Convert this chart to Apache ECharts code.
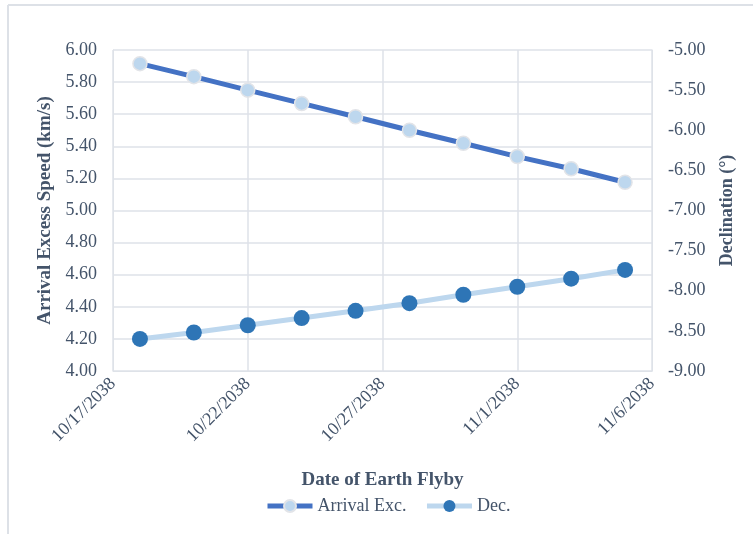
<!DOCTYPE html>
<html><head><meta charset="utf-8">
<script src="https://cdn.jsdelivr.net/npm/echarts@6/dist/echarts.min.js"></script>
<style>html,body{margin:0;padding:0;background:#fff}#c{width:753px;height:534px}</style>
</head><body><div id="c"></div>
<script>
const dates = ['10/18/2038','10/20/2038','10/22/2038','10/24/2038','10/26/2038','10/28/2038','10/30/2038','11/1/2038','11/3/2038','11/5/2038'];
const arrivalExc = [5.915, 5.834, 5.75, 5.667, 5.584, 5.50, 5.419, 5.336, 5.26, 5.176];
const declination = [-8.60, -8.52, -8.43, -8.34, -8.25, -8.155, -8.05, -7.95, -7.85, -7.74];
const xTickLabels = ['10/17/2038','10/22/2038','10/27/2038','11/1/2038','11/6/2038'];
const startDate = '10/17/2038';

function dayOffset(s){
  const p=s.split('/'); const b=startDate.split('/');
  const d=Date.UTC(+p[2],+p[0]-1,+p[1]); const d0=Date.UTC(+b[2],+b[0]-1,+b[1]);
  return Math.round((d-d0)/86400000);
}
const txt='#44546A', font='"Liberation Serif","Times New Roman",serif', gridC='#DEE2E8';
const chart = echarts.init(document.getElementById('c'));
chart.setOption({
  animation:false,
  textStyle:{fontFamily:font},
  graphic:[
    {type:'line',shape:{x1:8,y1:5,x2:753,y2:5},style:{stroke:'#DDE1E7',lineWidth:2}},
    {type:'line',shape:{x1:8,y1:5,x2:8,y2:534},style:{stroke:'#DDE1E7',lineWidth:2}}
  ],
  grid:{left:113,right:101,top:50,bottom:163},
  legend:{bottom:14,left:260,itemWidth:45,itemHeight:15,itemGap:18,
    textStyle:{color:txt,fontSize:18,fontFamily:font},
    data:[{name:'Arrival Exc.',lineStyle:{width:5}},{name:'Dec.',lineStyle:{width:5}}]},
  xAxis:{type:'value',min:0,max:20,interval:5,
    name:'Date of Earth Flyby',nameLocation:'middle',nameGap:100,
    nameTextStyle:{color:txt,fontSize:19,fontWeight:'bold',fontFamily:font},
    axisLine:{lineStyle:{color:gridC}},axisTick:{show:false},
    splitLine:{show:true,lineStyle:{color:gridC,width:1.5}},
    axisLabel:{rotate:45,color:txt,fontSize:18,fontFamily:font,margin:10,
      formatter:v=>xTickLabels[Math.round(v/5)]||''}},
  yAxis:[
    {type:'value',min:4,max:6,interval:0.2,position:'left',
     name:'Arrival Excess Speed (km/s)',nameLocation:'middle',nameGap:54,
     nameTextStyle:{color:txt,fontSize:19,fontWeight:'bold',fontFamily:font},
     axisLine:{show:true,lineStyle:{color:gridC}},axisTick:{show:false},
     splitLine:{lineStyle:{color:gridC,width:1.5}},
     axisLabel:{color:txt,fontSize:18,fontFamily:font,margin:16,formatter:v=>v.toFixed(2)}},
    {type:'value',min:-9,max:-5,interval:0.5,position:'right',
     name:'Declination (°)',nameLocation:'middle',nameGap:66,
     nameTextStyle:{color:txt,fontSize:18,fontWeight:'bold',fontFamily:font},
     axisLine:{show:true,lineStyle:{color:gridC}},axisTick:{show:false},
     splitLine:{show:false},
     axisLabel:{color:txt,fontSize:18,fontFamily:font,margin:16,formatter:v=>v.toFixed(2)}}
  ],
  series:[
    {name:'Arrival Exc.',type:'line',yAxisIndex:0,
     data:dates.map((d,i)=>[dayOffset(d),arrivalExc[i]]),
     symbol:'circle',symbolSize:14,
     lineStyle:{color:'#4472C4',width:5},
     itemStyle:{color:'#BDD7EE',borderColor:'#E2E4E8',borderWidth:1.5}},
    {name:'Dec.',type:'line',yAxisIndex:1,
     data:dates.map((d,i)=>[dayOffset(d),declination[i]]),
     symbol:'circle',symbolSize:16,
     lineStyle:{color:'#BDD7EE',width:5},
     itemStyle:{color:'#2E75B6',borderColor:'#2E75B6',borderWidth:0}}
  ]
});
</script></body></html>
